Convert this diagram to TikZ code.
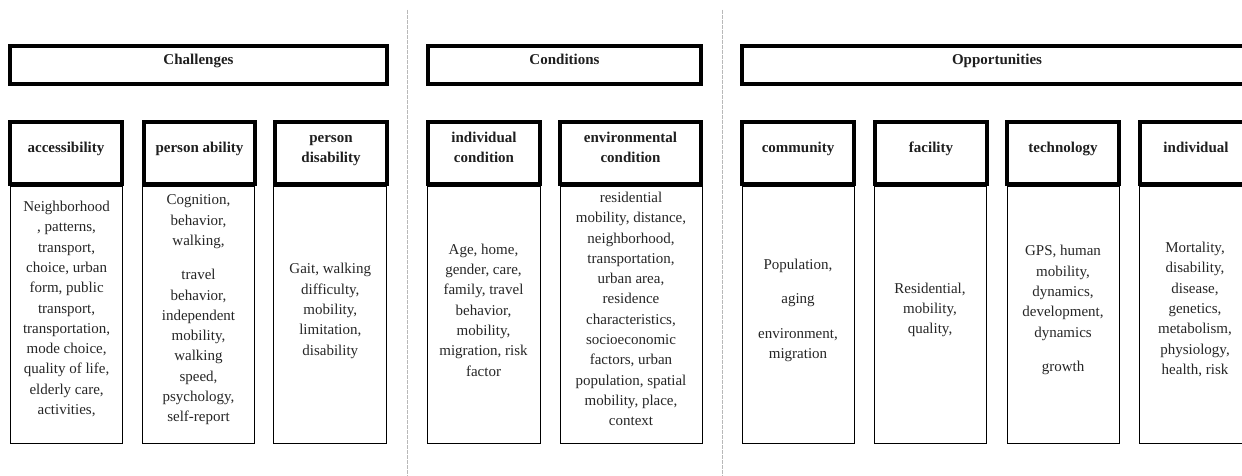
\documentclass[tikz,border=0pt]{standalone}
\usepackage{fontspec}
\setmainfont{Liberation Serif}
\begin{document}
\begin{tikzpicture}[x=1pt,y=-1pt,
  bigbox/.style={draw,line width=4pt,inner sep=0pt,minimum height=38pt},
  headbox/.style={draw,line width=4pt,inner sep=0pt,minimum height=62pt},
  listbox/.style={draw,line width=1pt,inner sep=0pt,minimum height=257pt},
  titletext/.style={font=\fontsize{15}{18}\selectfont\bfseries,align=center,inner sep=0pt,anchor=base,text=black!88},
  headtext/.style={font=\fontsize{15}{20.5}\selectfont\bfseries,align=center,inner sep=0pt,anchor=base,text=black!88},
  listtext/.style={font=\fontsize{15}{20.3}\selectfont,align=center,inner sep=0pt,text=black!85},
  divider/.style={draw=gray!55,line width=1pt,dash pattern=on 4pt off 1pt}]
\useasboundingbox (0,0) rectangle (1242,476);
\clip (0,0) rectangle (1242,476);
\fill[white] (0,0) rectangle (1242,476);

% dividers
\coordinate (d1t) at (407,10); \coordinate (d1b) at (407,476);
\coordinate (d2t) at (722,10); \coordinate (d2b) at (722,476);
\draw[divider] (d1t) -- (d1b);
\draw[divider] (d2t) -- (d2b);

% Challenges
\node[bigbox,minimum width=377pt] (chal) at (198.5,65) {};
\node[titletext] (chalt) at (198.5,64.5) {Challenges};
\node[listbox,minimum width=112pt] (accl) at (66.6,314.5) {};
\node[listbox,minimum width=112pt] (pabl) at (198.5,314.5) {};
\node[listbox,minimum width=112.7pt] (pdisl) at (330.3,314.5) {};
\node[headbox,minimum width=112pt] (acc) at (66,153) {};
\node[headbox,minimum width=111pt] (pab) at (199.5,153) {};
\node[headbox,minimum width=112pt] (pdis) at (331,153) {};
\node[headtext] (acct) at (66,152.5) {accessibility};
\node[headtext] (pabt) at (199.5,152.5) {person ability};
\node[headtext] (pdist) at (331,162.5) {person\\disability};
\node[listtext] (accx) at (66.6,309) {Neighborhood\\, patterns,\\transport,\\choice, urban\\form, public\\transport,\\transportation,\\mode choice,\\quality of life,\\elderly care,\\activities,};
\node[listtext] (pabx) at (198.5,310) {Cognition,\\behavior,\\walking,\\[14pt]travel\\behavior,\\independent\\mobility,\\walking\\speed,\\psychology,\\self-report};
\node[listtext] (pdisx) at (330.3,311) {Gait, walking\\difficulty,\\mobility,\\limitation,\\disability};

% Conditions
\node[bigbox,minimum width=273pt] (cond) at (564.5,65) {};
\node[titletext] (condt) at (564.5,64.5) {Conditions};
\node[listbox,minimum width=113pt] (icl) at (483.5,314.5) {};
\node[listbox,minimum width=142pt] (ecl) at (631,314.5) {};
\node[headbox,minimum width=112pt] (ic) at (484,153) {};
\node[headbox,minimum width=141pt] (ec) at (630.5,153) {};
\node[headtext] (ict) at (484,162.5) {individual\\condition};
\node[headtext] (ect) at (630.5,162.5) {environmental\\condition};
\node[listtext] (icx) at (483.5,310) {Age, home,\\gender, care,\\family, travel\\behavior,\\mobility,\\migration, risk\\factor};
\node[listtext] (ecx) at (631,309) {residential\\mobility, distance,\\neighborhood,\\transportation,\\urban area,\\residence\\characteristics,\\socioeconomic\\factors, urban\\population, spatial\\mobility, place,\\context};

% Opportunities
\node[bigbox,minimum width=510pt] (opp) at (997,65) {};
\node[titletext] (oppt) at (997,64.5) {Opportunities};
\node[listbox,minimum width=112pt] (coml) at (798,314.5) {};
\node[listbox,minimum width=112pt] (facl) at (930,314.5) {};
\node[listbox,minimum width=112pt] (tecl) at (1063,314.5) {};
\node[listbox,minimum width=112pt] (indl) at (1195,314.5) {};
\node[headbox,minimum width=112pt] (com) at (798,153) {};
\node[headbox,minimum width=112pt] (fac) at (931,153) {};
\node[headbox,minimum width=112pt] (tec) at (1063,153) {};
\node[headbox,minimum width=112pt] (ind) at (1196,153) {};
\node[headtext] (comt) at (798,152.5) {community};
\node[headtext] (fact) at (931,152.5) {facility};
\node[headtext] (tect) at (1063,152.5) {technology};
\node[headtext] (indt) at (1196,152.5) {individual};
\node[listtext] (comx) at (798,310.5) {Population,\\[14pt]aging\\[14pt]environment,\\migration};
\node[listtext] (facx) at (930,310) {Residential,\\mobility,\\quality,};
\node[listtext] (tecx) at (1063,310) {GPS, human\\mobility,\\dynamics,\\development,\\dynamics\\[14pt]growth};
\node[listtext] (indx) at (1195,309.5) {Mortality,\\disability,\\disease,\\genetics,\\metabolism,\\physiology,\\health, risk};
\end{tikzpicture}
\end{document}
